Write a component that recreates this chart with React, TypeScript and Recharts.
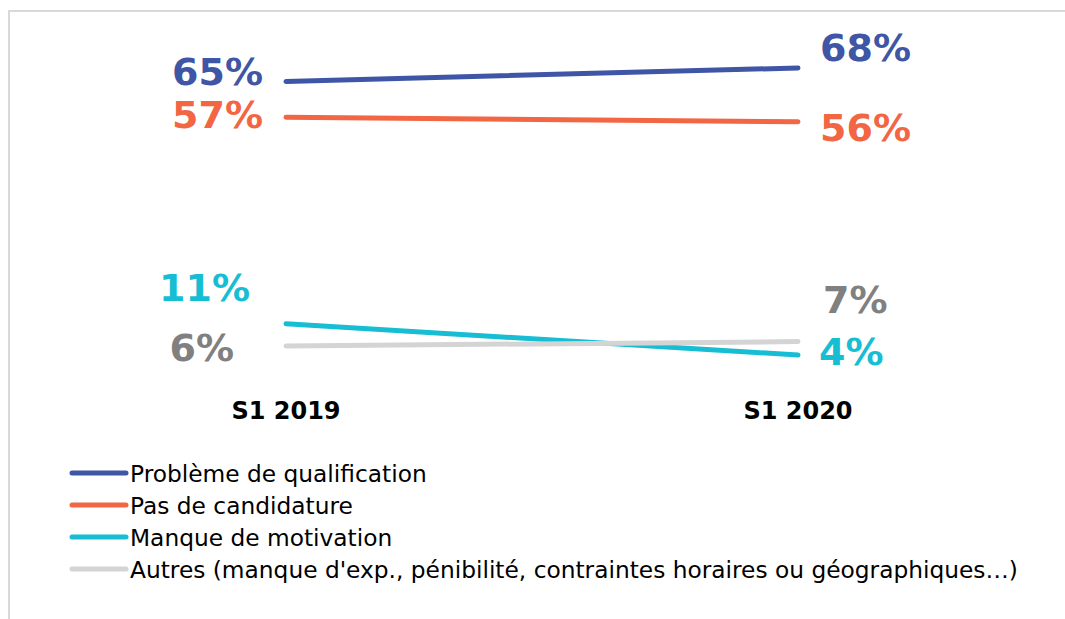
import { LineChart, Line, XAxis, YAxis, LabelList } from 'recharts';

const periods = ['S1 2019', 'S1 2020'];
const qualification = [65, 68];
const candidature = [57, 56];
const motivation = [11, 4];
const autres = [6, 7];

const seriesNames = [
  'Problème de qualification',
  'Pas de candidature',
  'Manque de motivation',
  "Autres (manque d'exp., pénibilité, contraintes horaires ou géographiques…)",
];

const chartData = periods.map((p, i) => ({
  period: p,
  qualification: qualification[i],
  candidature: candidature[i],
  motivation: motivation[i],
  autres: autres[i],
}));

// label placement, hand-tuned like the original Excel labels
const series = [
  { key: 'qualification', name: seriesNames[0], color: '#3F55A5', labelColor: '#3F55A5', offsets: [{ dx: -23, dy: -9 }, { dx: 22, dy: -20 }] },
  { key: 'candidature', name: seriesNames[1], color: '#F26644', labelColor: '#F26644', offsets: [{ dx: -23, dy: -2 }, { dx: 22, dy: 6 }] },
  { key: 'motivation', name: seriesNames[2], color: '#17BED3', labelColor: '#17BED3', offsets: [{ dx: -36, dy: -36 }, { dx: 21, dy: -3 }] },
  { key: 'autres', name: seriesNames[3], color: '#D4D4D4', labelColor: '#808080', offsets: [{ dx: -52, dy: 2 }, { dx: 25, dy: -42 }] },
];

const FONT = '"DejaVu Sans", Verdana, sans-serif';

const makeLabel = (color: string, offsets: { dx: number; dy: number }[]) => (props: any) => {
  const { x, y, value, index } = props;
  const off = offsets[index];
  return (
    <text
      x={x + off.dx}
      y={y + off.dy}
      textAnchor={index === 0 ? 'end' : 'start'}
      dominantBaseline="central"
      fill={color}
      fontFamily={FONT}
      fontWeight="bold"
      fontSize={38}
    >
      {value}%
    </text>
  );
};

const App = () => {
  return (
    <div style={{ position: 'absolute', left: 0, top: 0, width: 1065, height: 619, background: '#fff', overflow: 'hidden', fontFamily: FONT }}>
      <div style={{ position: 'absolute', left: 8, top: 10, width: 1200, height: 800, borderTop: '2px solid #D9D9D9', borderLeft: '2px solid #D9D9D9' }} />
      <div style={{ position: 'absolute', left: 0, top: 0 }}>
        <LineChart width={1065} height={619} data={chartData} margin={{ top: 59, right: 267, left: 286, bottom: 186 }}>
          <XAxis
            dataKey="period"
            axisLine={false}
            tickLine={false}
            height={60}
            tickMargin={23}
            padding={{ left: 0, right: 0 }}
            tick={{ fontSize: 24, fontWeight: 'bold', fill: '#000', fontFamily: FONT }}
          />
          <YAxis hide domain={[0, 70]} />
          {series.map((s) => (
            <Line
              key={s.key}
              dataKey={s.key}
              name={s.name}
              stroke={s.color}
              strokeWidth={5}
              strokeLinecap="round"
              dot={false}
              activeDot={false}
              type="linear"
              isAnimationActive={false}
            >
              <LabelList dataKey={s.key} content={makeLabel(s.labelColor, s.offsets)} />
            </Line>
          ))}
        </LineChart>
      </div>
      <div style={{ position: 'absolute', left: 68, top: 457 }}>
        {series.map((s) => (
          <div key={s.key} style={{ display: 'flex', alignItems: 'center', height: 32 }}>
            <svg width={62} height={10}>
              <line x1={4} y1={5} x2={58} y2={5} stroke={s.color} strokeWidth={5} strokeLinecap="round" />
            </svg>
            <span style={{ fontSize: 23.3, color: '#000', whiteSpace: 'nowrap' }}>{s.name}</span>
          </div>
        ))}
      </div>
    </div>
  );
};

export default App;
